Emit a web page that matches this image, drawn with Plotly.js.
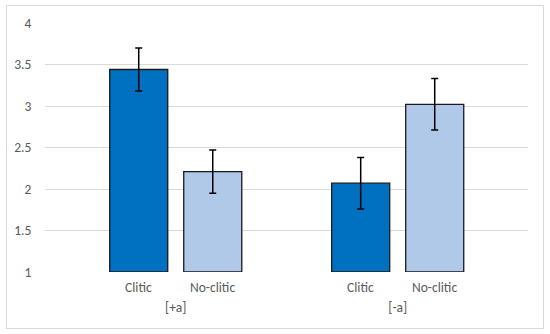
<!DOCTYPE html>
<html>
<head>
<meta charset="utf-8">
<script src="https://cdn.plot.ly/plotly-3.0.1.min.js"></script>
<style>
  html, body { margin: 0; padding: 0; background: #ffffff; }
  #chart { position: absolute; left: 6px; top: 5px; width: 536px; height: 322px; border: 1px solid #d9d9d9; }
</style>
</head>
<body>
<div id="chart"></div>
<script>
// Data
const groups = ["[+a]", "[-a]"];
const seriesNames = ["Clitic", "No-clitic"];
const cliticMeans = [3.44, 2.07];
const cliticErr = [0.26, 0.31];
const noCliticMeans = [2.21, 3.02];
const noCliticErr = [0.26, 0.31];
const yTicks = [1, 1.5, 2, 2.5, 3, 3.5, 4];

const baseValue = 1;
const fontFam = "Carlito, Calibri, Lato, 'Liberation Sans', sans-serif";
const textColor = "#595959";
const fontSize = 13.5;
const bargap = 0.333;
const bargroupgap = 0.216;

function barTrace(name, means, errs, color) {
  return {
    type: "bar",
    name: name,
    x: groups,
    y: means.map(v => v - baseValue),
    base: baseValue,
    marker: { color: color, line: { color: "#1a1a1a", width: 1.3 } },
    error_y: { type: "data", array: errs, visible: true, color: "#000000", thickness: 1.5, width: 3.5 },
    hoverinfo: "skip"
  };
}

const traces = [
  barTrace(seriesNames[0], cliticMeans, cliticErr, "#0070c0"),
  barTrace(seriesNames[1], noCliticMeans, noCliticErr, "#b1c9e8")
];

// sub labels under each bar
const slot = (1 - bargap) / 2;
const annotations = [];
groups.forEach((g, i) => {
  seriesNames.forEach((s, j) => {
    annotations.push({
      x: i + (j - 0.5) * slot,
      xref: "x",
      y: 0,
      yref: "paper",
      yanchor: "top",
      yshift: -5,
      text: s,
      showarrow: false,
      font: { family: fontFam, size: fontSize, color: textColor }
    });
  });
});

const layout = {
  width: 536,
  height: 322,
  margin: { l: 38, r: 15, t: 17, b: 56 },
  paper_bgcolor: "#ffffff",
  plot_bgcolor: "#ffffff",
  showlegend: false,
  barmode: "group",
  bargap: bargap,
  bargroupgap: bargroupgap,
  font: { family: fontFam, size: fontSize, color: textColor },
  xaxis: {
    type: "category",
    range: [-0.589, 1.587],
    showgrid: false,
    zeroline: false,
    showline: false,
    ticks: "",
    ticklabelstandoff: 25,
    tickfont: { family: fontFam, size: fontSize, color: textColor }
  },
  yaxis: {
    range: [1, 4],
    tickvals: yTicks,
    ticktext: yTicks.map(String),
    showgrid: true,
    gridcolor: "#d9d9d9",
    gridwidth: 1,
    zeroline: false,
    showline: false,
    ticks: "outside",
    ticklen: 10,
    tickcolor: "rgba(0,0,0,0)",
    tickfont: { family: fontFam, size: fontSize, color: textColor }
  },
  annotations: annotations
};

Plotly.newPlot("chart", traces, layout, { displayModeBar: false, staticPlot: true });
</script>
</body>
</html>
